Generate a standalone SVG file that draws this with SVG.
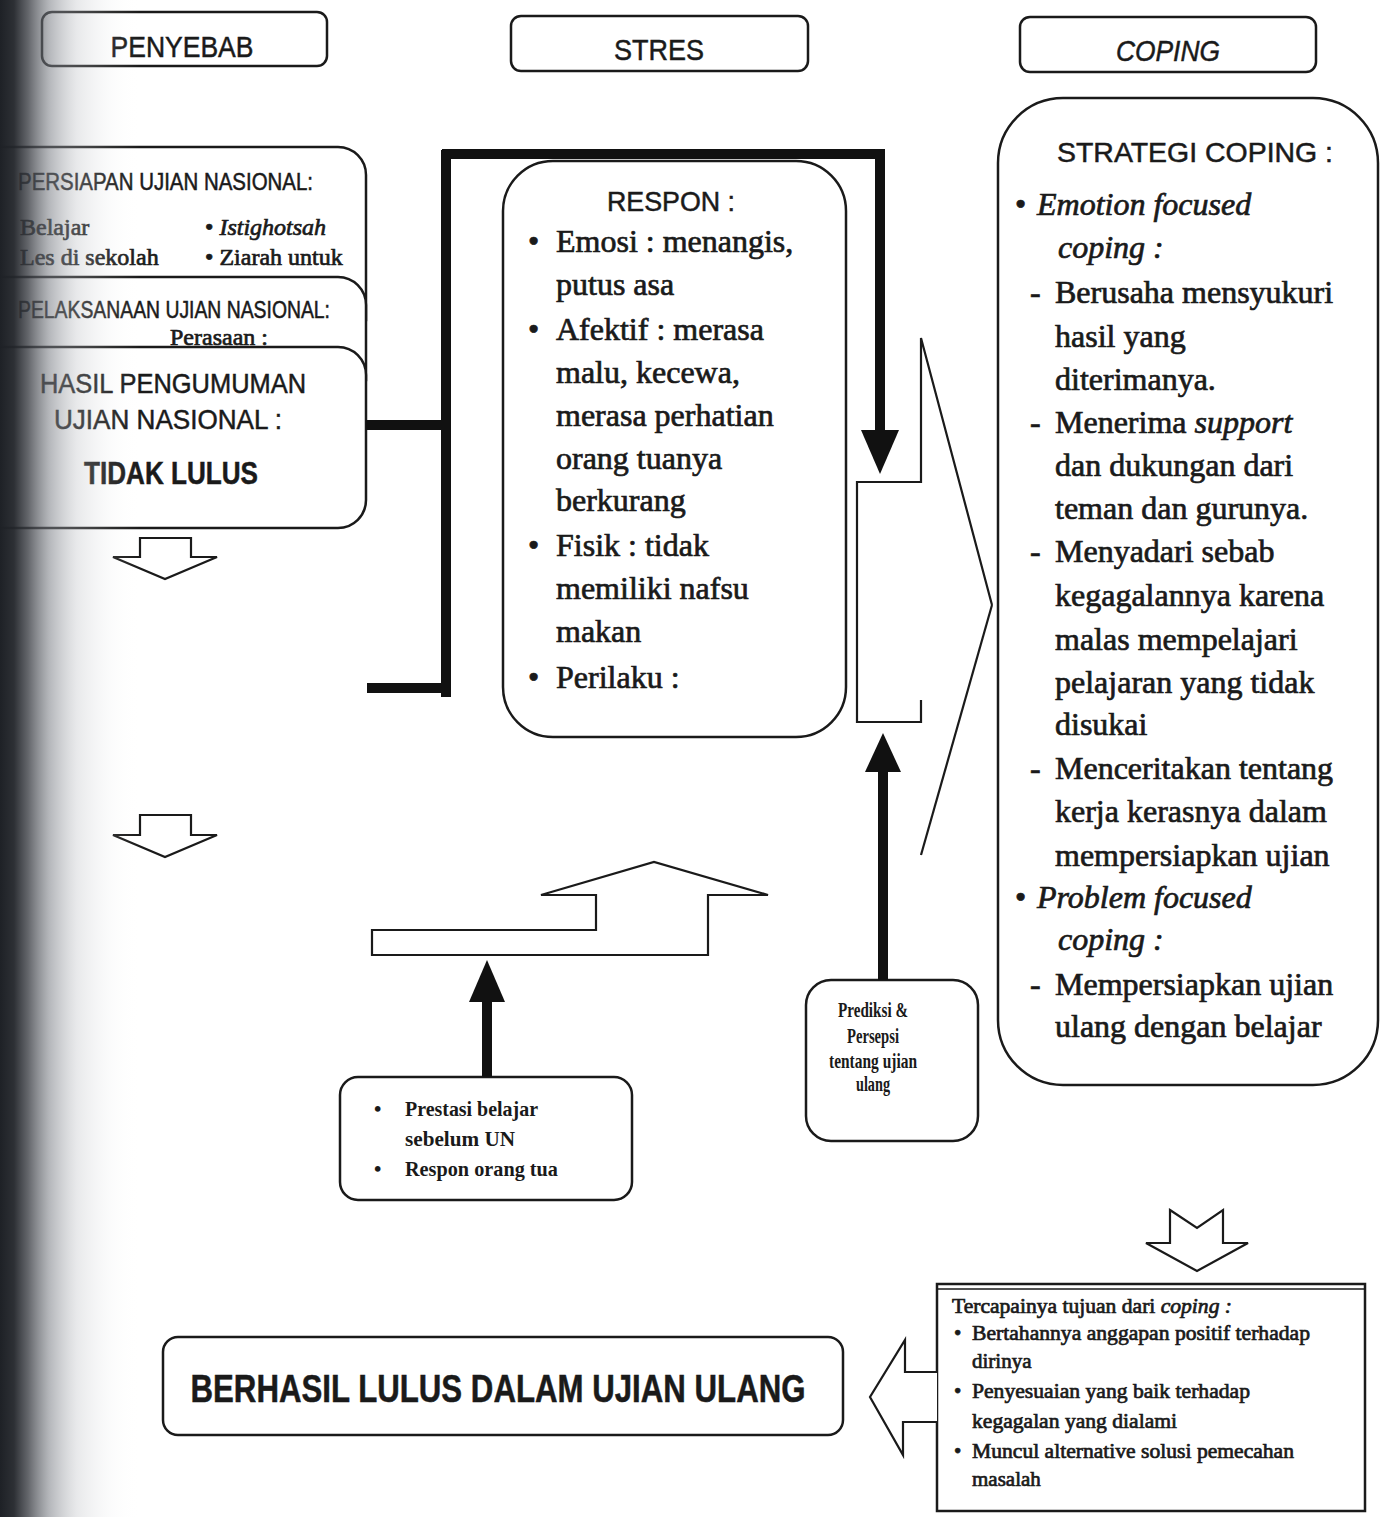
<svg xmlns="http://www.w3.org/2000/svg" width="1382" height="1517" viewBox="0 0 1382 1517">
<defs>
<linearGradient id="shade" x1="0" y1="0" x2="1" y2="0">
<stop offset="0" stop-color="#1e2126" stop-opacity="1"/>
<stop offset="0.1" stop-color="#24272c" stop-opacity="0.96"/>
<stop offset="0.2" stop-color="#3c3f45" stop-opacity="0.8"/>
<stop offset="0.35" stop-color="#777b82" stop-opacity="0.55"/>
<stop offset="0.55" stop-color="#b3b6bb" stop-opacity="0.3"/>
<stop offset="0.8" stop-color="#dcdee1" stop-opacity="0.1"/>
<stop offset="1" stop-color="#ffffff" stop-opacity="0"/>
</linearGradient>
<style>
.box{fill:#fff;stroke:#1a1a1a;stroke-width:2.5}
.sans{font-family:"Liberation Sans",Arial,sans-serif;fill:#1a1a1a;stroke:#1a1a1a;stroke-width:0.5}
.serif{font-family:"Liberation Serif","Times New Roman",serif;fill:#1a1a1a}
.heavy{stroke:#1a1a1a;stroke-width:0.7}
.thick{stroke:#111;stroke-width:10;fill:none}
.head{fill:#111}
.blk{fill:#fff;stroke:#1a1a1a;stroke-width:2.2;stroke-linejoin:miter}
.open{fill:none;stroke:#1a1a1a;stroke-width:2.2;stroke-linejoin:miter}
.big{font-size:32px}
.ital{font-style:italic}
</style>
</defs>
<rect width="1382" height="1517" fill="#fff"/>

<g id="header-penyebab">
<rect class="box" x="42" y="12" width="285" height="54" rx="10"/>
<text class="sans" x="182" y="57" font-size="30" text-anchor="middle" textLength="143" lengthAdjust="spacingAndGlyphs">PENYEBAB</text>
</g>
<g id="header-stres">
<rect class="box" x="511" y="16" width="297" height="55" rx="10"/>
<text class="sans" x="659" y="60" font-size="30" text-anchor="middle" textLength="90" lengthAdjust="spacingAndGlyphs">STRES</text>
</g>
<g id="header-coping">
<rect class="box" x="1020" y="17" width="296" height="55" rx="10"/>
<text class="sans ital" x="1168" y="61" font-size="30" text-anchor="middle" textLength="104" lengthAdjust="spacingAndGlyphs">COPING</text>
</g>

<g id="persiapan">
<path class="box" d="M-10,147 H338 A28,28 0 0 1 366,175 V320 H-10 Z"/>
<text class="sans" x="18" y="190" font-size="23" textLength="295" lengthAdjust="spacingAndGlyphs">PERSIAPAN UJIAN NASIONAL:</text>
<text class="serif heavy" x="20" y="235" font-size="24">Belajar</text>
<text class="serif heavy" x="20" y="265" font-size="24">Les di sekolah</text>
<text class="serif heavy" x="205" y="235" font-size="24">• <tspan class="ital">Istighotsah</tspan></text>
<text class="serif heavy" x="205" y="265" font-size="24">• Ziarah untuk</text>
</g>
<g id="pelaksanaan">
<path class="box" d="M-10,277 H338 A28,28 0 0 1 366,305 V380 H-10 Z"/>
<text class="sans" x="18" y="318" font-size="23" textLength="312" lengthAdjust="spacingAndGlyphs">PELAKSANAAN UJIAN NASIONAL:</text>
<text class="serif heavy" x="170" y="345" font-size="24">Perasaan :</text>
</g>
<g id="hasil">
<path class="box" d="M-10,347 H338 A28,28 0 0 1 366,375 V500 A28,28 0 0 1 338,528 H-10 Z"/>
<text class="sans" x="173" y="393" font-size="28" text-anchor="middle" textLength="266" lengthAdjust="spacingAndGlyphs">HASIL PENGUMUMAN</text>
<text class="sans" x="168" y="429" font-size="28" text-anchor="middle" textLength="228" lengthAdjust="spacingAndGlyphs">UJIAN NASIONAL :</text>
<text class="sans" x="171" y="484" font-size="31" font-weight="bold" text-anchor="middle" textLength="174" lengthAdjust="spacingAndGlyphs">TIDAK LULUS</text>
</g>

<g id="respon">
<rect class="box" x="503" y="161" width="343" height="576" rx="50"/>
<text class="sans" x="671" y="211" font-size="28" text-anchor="middle" textLength="128" lengthAdjust="spacingAndGlyphs">RESPON :</text>
<g class="serif big heavy">
<text x="528" y="252">•</text><text x="556" y="252">Emosi : menangis,</text>
<text x="556" y="295">putus asa</text>
<text x="528" y="340">•</text><text x="556" y="340">Afektif : merasa</text>
<text x="556" y="383">malu, kecewa,</text>
<text x="556" y="426">merasa perhatian</text>
<text x="556" y="469">orang tuanya</text>
<text x="556" y="511">berkurang</text>
<text x="528" y="556">•</text><text x="556" y="556">Fisik : tidak</text>
<text x="556" y="599">memiliki nafsu</text>
<text x="556" y="642">makan</text>
<text x="528" y="688">•</text><text x="556" y="688">Perilaku :</text>
</g>
</g>

<g id="strategi-coping">
<rect class="box" x="998" y="98" width="380" height="987" rx="65"/>
<text class="sans" x="1195" y="162" font-size="28" text-anchor="middle" textLength="276" lengthAdjust="spacingAndGlyphs">STRATEGI COPING :</text>
<g class="serif big heavy">
<text x="1015" y="215">•</text><text class="ital" x="1037" y="215">Emotion focused</text>
<text class="ital" x="1058" y="258">coping :</text>
<text x="1030" y="303">-</text><text x="1055" y="303">Berusaha mensyukuri</text>
<text x="1055" y="347">hasil yang</text>
<text x="1055" y="390">diterimanya.</text>
<text x="1030" y="433">-</text><text x="1055" y="433">Menerima <tspan class="ital">support</tspan></text>
<text x="1055" y="476">dan dukungan dari</text>
<text x="1055" y="519">teman dan gurunya.</text>
<text x="1030" y="562">-</text><text x="1055" y="562">Menyadari sebab</text>
<text x="1055" y="606">kegagalannya karena</text>
<text x="1055" y="650">malas mempelajari</text>
<text x="1055" y="693">pelajaran yang tidak</text>
<text x="1055" y="735">disukai</text>
<text x="1030" y="779">-</text><text x="1055" y="779">Menceritakan tentang</text>
<text x="1055" y="822">kerja kerasnya dalam</text>
<text x="1055" y="866">mempersiapkan ujian</text>
<text x="1015" y="908">•</text><text class="ital" x="1037" y="908">Problem focused</text>
<text class="ital" x="1058" y="950">coping :</text>
<text x="1030" y="995">-</text><text x="1055" y="995">Mempersiapkan ujian</text>
<text x="1055" y="1037">ulang dengan belajar</text>
</g>
</g>

<g id="faktor-kognitif">
<rect class="box" x="340" y="1077" width="292" height="123" rx="18"/>
<g class="serif" font-size="21" font-weight="bold">
<text x="374" y="1116">•</text><text x="405" y="1116" textLength="133" lengthAdjust="spacingAndGlyphs">Prestasi belajar</text>
<text x="405" y="1146" textLength="110" lengthAdjust="spacingAndGlyphs">sebelum UN</text>
<text x="374" y="1176">•</text><text x="405" y="1176" textLength="153" lengthAdjust="spacingAndGlyphs">Respon orang tua</text>
</g>
</g>

<g id="prediksi">
<rect class="box" x="806" y="980" width="172" height="161" rx="25"/>
<g class="serif" font-size="22" font-weight="bold" text-anchor="middle">
<text x="873" y="1017" textLength="70" lengthAdjust="spacingAndGlyphs">Prediksi &amp;</text>
<text x="873" y="1043" textLength="52" lengthAdjust="spacingAndGlyphs">Persepsi</text>
<text x="873" y="1068" textLength="88" lengthAdjust="spacingAndGlyphs">tentang ujian</text>
<text x="873" y="1091" textLength="34" lengthAdjust="spacingAndGlyphs">ulang</text>
</g>
</g>

<g id="tujuan-coping">
<rect class="box" x="937" y="1284" width="428" height="227"/>
<line x1="937" y1="1289" x2="1365" y2="1289" stroke="#1a1a1a" stroke-width="1.5"/>
<g class="serif heavy" font-size="21" stroke-width="0.5">
<text x="952" y="1313" textLength="280" lengthAdjust="spacingAndGlyphs">Tercapainya tujuan dari <tspan class="ital">coping :</tspan></text>
<text x="954" y="1340">•</text><text x="972" y="1340" textLength="338" lengthAdjust="spacingAndGlyphs">Bertahannya anggapan positif terhadap</text>
<text x="972" y="1368">dirinya</text>
<text x="954" y="1398">•</text><text x="972" y="1398" textLength="278" lengthAdjust="spacingAndGlyphs">Penyesuaian yang baik terhadap</text>
<text x="972" y="1428" textLength="205" lengthAdjust="spacingAndGlyphs">kegagalan yang dialami</text>
<text x="954" y="1458">•</text><text x="972" y="1458" textLength="322" lengthAdjust="spacingAndGlyphs">Muncul alternative solusi pemecahan</text>
<text x="972" y="1486">masalah</text>
</g>
</g>

<g id="berhasil">
<rect class="box" x="163" y="1337" width="680" height="98" rx="15"/>
<text class="sans" x="498" y="1402" font-size="38" font-weight="bold" text-anchor="middle" textLength="615" lengthAdjust="spacingAndGlyphs">BERHASIL LULUS DALAM UJIAN ULANG</text>
</g>

<g id="connectors">
<path class="thick" d="M446,150 V697"/>
<path class="thick" d="M442,154 H880 V432"/>
<path class="thick" d="M366,425 H446" stroke-width="8"/>
<path class="thick" d="M367,688 H446"/>
<polygon class="head" points="861,430 899,430 880,474"/>
<path class="thick" d="M883,980 V768" stroke-width="12"/>
<polygon class="head" points="865,772 901,772 883,733"/>
<path class="thick" d="M487,1077 V1000" stroke-width="12"/>
<polygon class="head" points="469,1002 505,1002 487,960"/>
<polyline class="open" points="992,605 921,338 921,482 857,482 857,722 921,722 921,700"/>
<polyline class="open" points="992,605 921,855"/>
<polygon class="blk" points="140,538 191,538 191,557 217,557 165,579 113,557 140,557"/>
<polygon class="blk" points="140,815 191,815 191,835 217,835 165,857 113,835 140,835"/>
<polygon class="blk" points="596,930 372,930 372,955 708,955 708,895 768,895 654,862 541,895 596,895"/>
<polygon class="blk" points="1170,1210 1197,1228 1223,1210 1223,1243 1248,1243 1197,1271 1146,1243 1170,1243"/>
<polyline class="blk" points="937,1372 905,1372 905,1340 870,1397 903,1455 903,1422 937,1422"/>
</g>

<rect id="scan-shadow" x="0" y="0" width="140" height="1517" fill="url(#shade)"/>
</svg>
